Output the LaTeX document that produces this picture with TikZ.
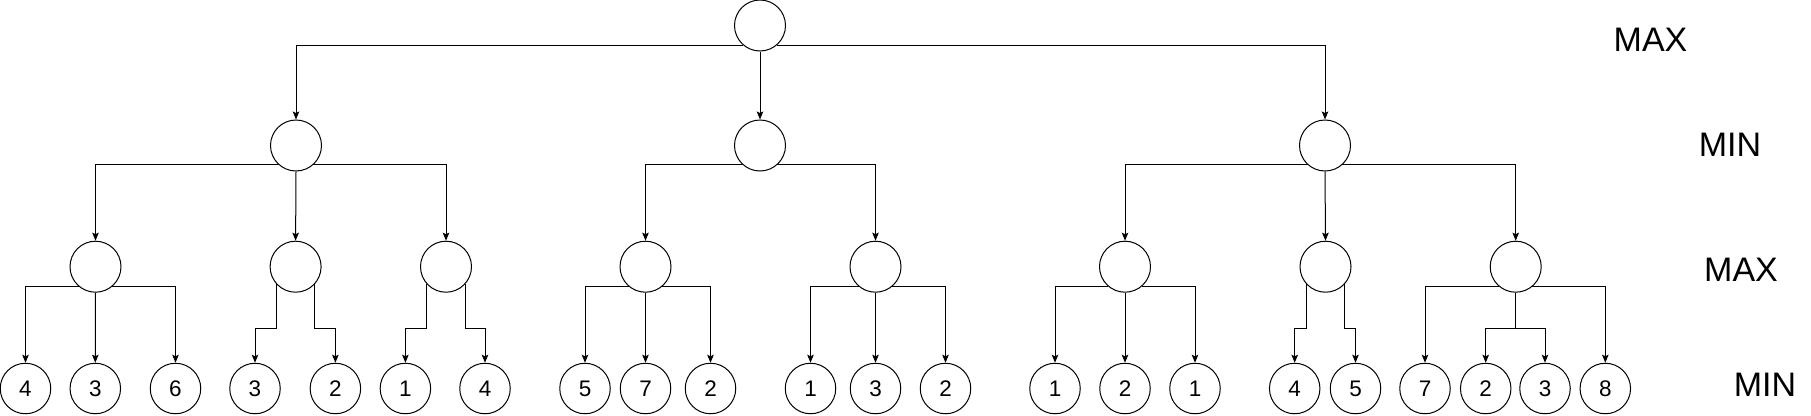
\documentclass[tikz,border=0pt]{standalone}
\usepackage{fontspec}
\setmainfont{Liberation Sans}
\usetikzlibrary{arrows.meta}
\begin{document}
\begin{tikzpicture}[x=1pt,y=1pt,
  inner/.style={circle,draw,line width=1pt,minimum size=51pt,inner sep=0pt},
  leaf/.style={circle,draw,line width=1pt,minimum size=50.5pt,inner sep=0pt,font=\fontsize{22.5}{26}\selectfont},
  lvl/.style={font=\fontsize{34}{40}\selectfont,inner sep=0pt},
  edge/.style={line width=1pt,-{Stealth[length=8pt,width=6.5pt,inset=1.5pt]}}]
\useasboundingbox (0,0) rectangle (1811,-415);
% root
\node[inner] (r) at (760,-25.5) {};
% MIN level
\node[inner] (a) at (296,-145.5) {};
\node[inner] (b) at (760,-145.5) {};
\node[inner] (c) at (1325,-145.5) {};
% MAX level
\node[inner] (a1) at (95.5,-266.7) {};
\node[inner] (a2) at (295.6,-266.7) {};
\node[inner] (a3) at (446,-266.7) {};
\node[inner] (b1) at (645.5,-266.7) {};
\node[inner] (b2) at (875.5,-266.7) {};
\node[inner] (c1) at (1125,-266.7) {};
\node[inner] (c2) at (1325.5,-266.7) {};
\node[inner] (c3) at (1515.7,-266.7) {};
% leaves
\node[leaf] (l1) at (25.5,-388.5) {4};
\node[leaf] (l2) at (95.3,-388.5) {3};
\node[leaf] (l3) at (175.5,-388.5) {6};
\node[leaf] (l4) at (255,-388.5) {3};
\node[leaf] (l5) at (335.4,-388.5) {2};
\node[leaf] (l6) at (405.4,-388.5) {1};
\node[leaf] (l7) at (485,-388.5) {4};
\node[leaf] (l8) at (585,-388.5) {5};
\node[leaf] (l9) at (645.5,-388.5) {7};
\node[leaf] (l10) at (710.5,-388.5) {2};
\node[leaf] (l11) at (810.5,-388.5) {1};
\node[leaf] (l12) at (875.5,-388.5) {3};
\node[leaf] (l13) at (945.5,-388.5) {2};
\node[leaf] (l14) at (1055,-388.5) {1};
\node[leaf] (l15) at (1125,-388.5) {2};
\node[leaf] (l16) at (1195,-388.5) {1};
\node[leaf] (l17) at (1294.7,-388.5) {4};
\node[leaf] (l18) at (1355.5,-388.5) {5};
\node[leaf] (l19) at (1425,-388.5) {7};
\node[leaf] (l20) at (1485.7,-388.5) {2};
\node[leaf] (l21) at (1545,-388.5) {3};
\node[leaf] (l22) at (1605.3,-388.5) {8};
% labels
\node[lvl] (t1) at (1650.5,-40) {MAX};
\node[lvl] (t2) at (1730,-145) {MIN};
\node[lvl] (t3) at (1741,-270) {MAX};
\node[lvl] (t4) at (1765,-384.5) {MIN};
\coordinate (mid) at (0,-328);
% root edges
\draw[edge] (r.-130) -| (a.north);
\draw[edge] (r.south) -- (b.north);
\draw[edge] (r.-50) -| (c.north);
% MIN edges
\draw[edge] (a.-132) -| (a1.north);
\draw[edge] (a.south) -- (a2.north);
\draw[edge] (a.-48) -| (a3.north);
\draw[edge] (b.-132) -| (b1.north);
\draw[edge] (b.-48) -| (b2.north);
\draw[edge] (c.-132) -| (c1.north);
\draw[edge] (c.south) -- (c2.north);
\draw[edge] (c.-48) -| (c3.north);
% MAX edges, three children
\draw[edge] (a1.-130) -| (l1.north);
\draw[edge] (a1.south) -- (l2.north);
\draw[edge] (a1.-50) -| (l3.north);
\draw[edge] (b1.-130) -| (l8.north);
\draw[edge] (b1.south) -- (l9.north);
\draw[edge] (b1.-50) -| (l10.north);
\draw[edge] (b2.-130) -| (l11.north);
\draw[edge] (b2.south) -- (l12.north);
\draw[edge] (b2.-50) -| (l13.north);
\draw[edge] (c1.-130) -| (l14.north);
\draw[edge] (c1.south) -- (l15.north);
\draw[edge] (c1.-50) -| (l16.north);
% MAX edges, two children
\draw[edge] (a2.-138) -- (a2.-138 |- mid) -| (l4.north);
\draw[edge] (a2.-42) -- (a2.-42 |- mid) -| (l5.north);
\draw[edge] (a3.-138) -- (a3.-138 |- mid) -| (l6.north);
\draw[edge] (a3.-42) -- (a3.-42 |- mid) -| (l7.north);
\draw[edge] (c2.-138) -- (c2.-138 |- mid) -| (l17.north);
\draw[edge] (c2.-42) -- (c2.-42 |- mid) -| (l18.north);
% MAX edges, four children
\draw[edge] (c3.-130) -| (l19.north);
\draw[edge] (c3.south) -- (c3.south |- mid) -| (l20.north);
\draw[edge] (c3.south) -- (c3.south |- mid) -| (l21.north);
\draw[edge] (c3.-50) -| (l22.north);
\end{tikzpicture}
\end{document}
